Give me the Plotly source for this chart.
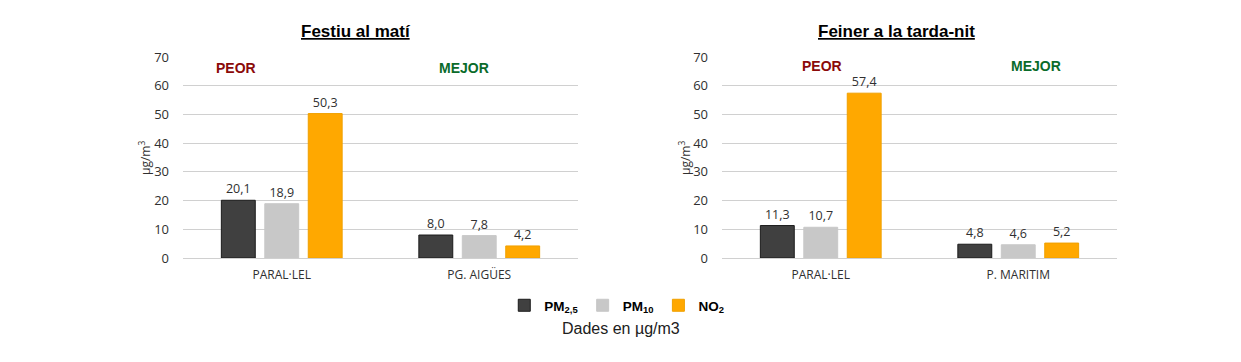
import plotly.graph_objects as go

series = ["PM<sub>2,5</sub>", "PM<sub>10</sub>", "NO<sub>2</sub>"]
colors = ["#404040", "#C8C8C8", "#FFA800"]
lines = ["#1a1a1a", "#C8C8C8", "#F0A000"]

left_title = "Festiu al matí"
left_cats = ["PARAL·LEL", "PG. AIGÜES"]
left_vals = [[20.1, 8.0], [18.9, 7.8], [50.3, 4.2]]

right_title = "Feiner a la tarda-nit"
right_cats = ["PARAL·LEL", "P. MARITIM"]
right_vals = [[11.3, 4.8], [10.7, 4.6], [57.4, 5.2]]

yticks = [0, 10, 20, 30, 40, 50, 60, 70]

fig = go.Figure()
for i, name in enumerate(series):
    fig.add_trace(go.Bar(x=left_cats, y=left_vals[i], name="<b>" + name + "</b>",
                         marker_color=colors[i],
                         marker_line_color=lines[i], marker_line_width=1,
                         texttemplate="%{y:.1f}", textposition="outside",
                         textfont=dict(size=12.5, color="#303030", family="Open Sans"),
                         cliponaxis=False, xaxis="x", yaxis="y", legendgroup=name))
    fig.add_trace(go.Bar(x=right_cats, y=right_vals[i], name="<b>" + name + "</b>",
                         marker_color=colors[i],
                         marker_line_color=lines[i], marker_line_width=1,
                         texttemplate="%{y:.1f}", textposition="outside",
                         textfont=dict(size=12.5, color="#303030", family="Open Sans"),
                         cliponaxis=False, xaxis="x2", yaxis="y2", legendgroup=name,
                         showlegend=False))

ydom = [1 - 258 / 362, 1 - 57 / 362]
axis_y = dict(range=[0, 70], tickvals=yticks, showgrid=True, gridcolor="#D0D0D0", gridwidth=1,
              zeroline=False, showline=False, ticks="", ticklen=0, automargin=False,
              ticklabelstandoff=13,
              tickfont=dict(size=13, color="#303030", family="Open Sans"), domain=ydom)
axis_x = dict(showgrid=False, showline=True, linecolor="#D0D0D0", linewidth=1, ticks="",
              automargin=False, ticklabelstandoff=6,
              tickfont=dict(size=12, color="#303030", family="Open Sans"))

fig.update_layout(
    width=1241, height=362, margin=dict(l=0, r=0, t=0, b=0, autoexpand=False),
    paper_bgcolor="white", plot_bgcolor="white",
    separators=",.",
    barmode="group", bargap=0.34, bargroupgap=0.22,
    xaxis=dict(axis_x, domain=[183 / 1241, 578 / 1241], anchor="y"),
    yaxis=dict(axis_y, anchor="x"),
    xaxis2=dict(axis_x, domain=[722 / 1241, 1117 / 1241], anchor="y2"),
    yaxis2=dict(axis_y, anchor="x2"),
    showlegend=True,
    legend=dict(orientation="h", x=0.497, xanchor="center", y=1 - 290 / 362, yanchor="top",
                font=dict(size=13.5, color="#000000", family="Liberation Sans"),
                itemwidth=30, traceorder="normal"),
)

ann = []
ann.append(dict(text="<u><b>" + left_title + "</b></u>", x=356 / 1241, y=1 - 31 / 362,
                font=dict(size=17, family="Liberation Sans", color="black")))
ann.append(dict(text="<u><b>" + right_title + "</b></u>", x=896 / 1241, y=1 - 31 / 362,
                font=dict(size=17, family="Liberation Sans", color="black")))
for x, y, t, c in [(236, 68, "PEOR", "#8B0A0A"), (464, 68, "MEJOR", "#0A6B2A"),
                   (822, 66, "PEOR", "#8B0A0A"), (1036, 66, "MEJOR", "#0A6B2A")]:
    ann.append(dict(text="<b>" + t + "</b>", x=x / 1241, y=1 - y / 362,
                    font=dict(size=14, family="Liberation Sans", color=c)))
for x in [145, 685]:
    ann.append(dict(text="µg/m<sup>3</sup>", x=x / 1241, y=1 - 158 / 362, textangle=-90,
                    font=dict(size=12, family="Open Sans", color="#303030")))
ann.append(dict(text="Dades en µg/m3", x=621 / 1241, y=1 - 328 / 362,
                font=dict(size=16, family="Liberation Sans", color="#202020")))
for a in ann:
    a.update(xref="paper", yref="paper", showarrow=False, xanchor="center", yanchor="middle")
fig.update_layout(annotations=ann)

fig.write_html("out.html")
